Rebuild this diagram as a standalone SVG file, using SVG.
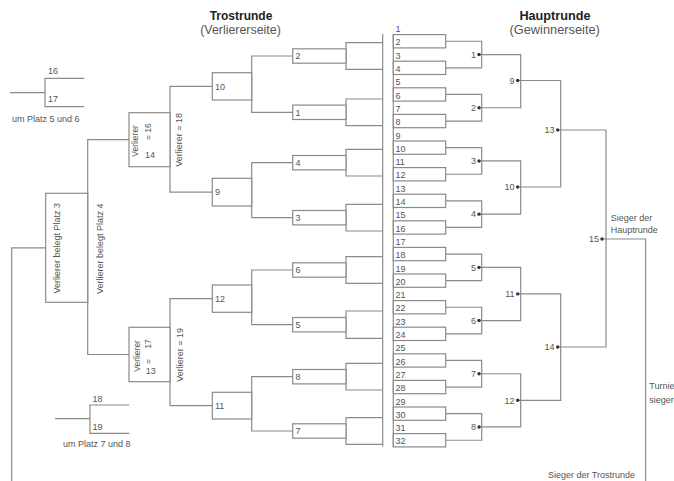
<svg xmlns="http://www.w3.org/2000/svg" width="674" height="481" viewBox="0 0 674 481">
<style>
.ln{fill:none;stroke:#8a8a8a;stroke-width:1.2}
.bx{fill:#fff;stroke:#8a8a8a;stroke-width:1.2}
text{font-family:"Liberation Sans",Arial,sans-serif;fill:#555;font-size:9px}
.t{font-weight:bold;fill:#222;text-anchor:middle}
.st{fill:#555;text-anchor:middle}
.e{text-anchor:end}
.sm{font-size:8.5px}
</style>
<defs>
<marker id="dot" viewBox="-2 -2 4 4" markerWidth="4" markerHeight="4" markerUnits="userSpaceOnUse" refX="0" refY="0"><circle r="1.7" fill="#333"/></marker>
</defs>
<rect width="674" height="481" fill="#fff"/>

<g id="titles">
<text class="t" x="241" y="20" style="font-size:12px">Trostrunde</text>
<text class="st" x="240.5" y="33.5" style="font-size:12.4px">(Verliererseite)</text>
<text class="t" x="555" y="20" style="font-size:12.7px">Hauptrunde</text>
<text class="st" x="554.7" y="33.5" style="font-size:12.8px">(Gewinnerseite)</text>
</g>

<g id="connectors">
<!-- main side -->
<path class="ln" d="M393.3,34.6V446.9"/>
<path class="ln" d="M445.7,41.25H481.7V67.85H445.7M445.7,94.45H481.7V121.05H445.7M445.7,147.65H481.7V174.25H445.7M445.7,200.85H481.7V227.45H445.7M445.7,254.05H481.7V280.65H445.7M445.7,307.25H481.7V333.85H445.7M445.7,360.45H481.7V387.05H445.7M445.7,413.65H481.7V440.25H445.7"/>
<path class="ln" marker-start="url(#dot)" marker-end="url(#dot)" d="M479,54.55H520.7V107.75H479"/>
<path class="ln" marker-start="url(#dot)" marker-end="url(#dot)" d="M479,160.95H520.7V214.15H479"/>
<path class="ln" marker-start="url(#dot)" marker-end="url(#dot)" d="M479,267.35H520.7V320.55H479"/>
<path class="ln" marker-start="url(#dot)" marker-end="url(#dot)" d="M479,373.75H520.7V426.95H479"/>
<path class="ln" marker-start="url(#dot)" marker-end="url(#dot)" d="M517.7,80.5H560.7V187H517.7"/>
<path class="ln" marker-start="url(#dot)" marker-end="url(#dot)" d="M517.7,293.9H560.7V400.3H517.7"/>
<path class="ln" marker-start="url(#dot)" marker-end="url(#dot)" d="M557.7,130H606V347H557.7"/>
<path class="ln" marker-start="url(#dot)" d="M602,239H645.7V481"/>
<!-- consolation side -->
<path class="ln" d="M382.7,34V446.5"/>
<path class="ln" d="M382.7,42.7H346V69.3H382.7M382.7,99H346V125.7H382.7M382.7,149.3H346V176H382.7M382.7,204.3H346V231H382.7M382.7,256.7H346V283.3H382.7M382.7,311H346V338.3H382.7M382.7,363.3H346V390H382.7M382.7,417.7H346V444.3H382.7"/>
<path class="ln" d="M292.7,56H251.7V112.3H292.7M292.7,162.7H251.7V217.7H292.7M292.7,270H251.7V324.7H292.7M292.7,376.7H251.7V431H292.7"/>
<path class="ln" d="M212.3,86.3H170V192.2H212.3M212.3,298.7H170V405.7H212.3"/>
<path class="ln" d="M129,139.7H87.7V354.5H129"/>
<path class="ln" d="M45.7,247.8H11.7V481"/>
<path class="ln" d="M10,92.7H45M84.3,78.3H45V106.7H84.3"/>
<path class="ln" d="M55,418.7H90M129.3,405H90V433.3H129.3"/>
</g>

<g id="main-slots">
<rect class="bx" x="393.3" y="34.6" width="52.4" height="13.3"/>
<rect class="bx" x="393.3" y="61.2" width="52.4" height="13.3"/>
<rect class="bx" x="393.3" y="87.8" width="52.4" height="13.3"/>
<rect class="bx" x="393.3" y="114.4" width="52.4" height="13.3"/>
<rect class="bx" x="393.3" y="141" width="52.4" height="13.3"/>
<rect class="bx" x="393.3" y="167.6" width="52.4" height="13.3"/>
<rect class="bx" x="393.3" y="194.2" width="52.4" height="13.3"/>
<rect class="bx" x="393.3" y="220.8" width="52.4" height="13.3"/>
<rect class="bx" x="393.3" y="247.4" width="52.4" height="13.3"/>
<rect class="bx" x="393.3" y="274" width="52.4" height="13.3"/>
<rect class="bx" x="393.3" y="300.6" width="52.4" height="13.3"/>
<rect class="bx" x="393.3" y="327.2" width="52.4" height="13.3"/>
<rect class="bx" x="393.3" y="353.8" width="52.4" height="13.3"/>
<rect class="bx" x="393.3" y="380.4" width="52.4" height="13.3"/>
<rect class="bx" x="393.3" y="407" width="52.4" height="13.3"/>
<rect class="bx" x="393.3" y="433.6" width="52.4" height="13.3"/>
<text x="395.5" y="32.1">1</text><text x="395.5" y="45.4">2</text><text x="395.5" y="58.7">3</text><text x="395.5" y="72">4</text>
<text x="395.5" y="85.3">5</text><text x="395.5" y="98.6">6</text><text x="395.5" y="111.9">7</text><text x="395.5" y="125.2">8</text>
<text x="395.5" y="138.5">9</text><text x="395.5" y="151.8">10</text><text x="395.5" y="165.1">11</text><text x="395.5" y="178.4">12</text>
<text x="395.5" y="191.7">13</text><text x="395.5" y="205">14</text><text x="395.5" y="218.3">15</text><text x="395.5" y="231.6">16</text>
<text x="395.5" y="244.9">17</text><text x="395.5" y="258.2">18</text><text x="395.5" y="271.5">19</text><text x="395.5" y="284.8">20</text>
<text x="395.5" y="298.1">21</text><text x="395.5" y="311.4">22</text><text x="395.5" y="324.7">23</text><text x="395.5" y="338">24</text>
<text x="395.5" y="351.3">25</text><text x="395.5" y="364.6">26</text><text x="395.5" y="377.9">27</text><text x="395.5" y="391.2">28</text>
<text x="395.5" y="404.5">29</text><text x="395.5" y="417.8">30</text><text x="395.5" y="431.1">31</text><text x="395.5" y="444.4">32</text>
</g>

<g id="main-matches">
<text class="e" x="476" y="57.8">1</text>
<text class="e" x="476" y="111">2</text>
<text class="e" x="476" y="164.2">3</text>
<text class="e" x="476" y="217.4">4</text>
<text class="e" x="476" y="270.6">5</text>
<text class="e" x="476" y="323.8">6</text>
<text class="e" x="476" y="377">7</text>
<text class="e" x="476" y="430.2">8</text>
<text class="e" x="514.5" y="83.7">9</text>
<text class="e" x="514.5" y="190.2">10</text>
<text class="e" x="514.5" y="297.1">11</text>
<text class="e" x="514.5" y="403.5">12</text>
<text class="e" x="554.5" y="133.2">13</text>
<text class="e" x="554.5" y="350.2">14</text>
<text class="e" x="599" y="242.2">15</text>
</g>

<g id="cons-r1">
<rect class="bx" x="292.7" y="48.8" width="53.3" height="14.4"/><text x="295.5" y="59.2">2</text>
<rect class="bx" x="292.7" y="105.1" width="53.3" height="14.4"/><text x="295.5" y="115.5">1</text>
<rect class="bx" x="292.7" y="155.5" width="53.3" height="14.4"/><text x="295.5" y="165.9">4</text>
<rect class="bx" x="292.7" y="210.5" width="53.3" height="14.4"/><text x="295.5" y="220.9">3</text>
<rect class="bx" x="292.7" y="262.8" width="53.3" height="14.4"/><text x="295.5" y="273.2">6</text>
<rect class="bx" x="292.7" y="317.5" width="53.3" height="14.4"/><text x="295.5" y="327.9">5</text>
<rect class="bx" x="292.7" y="369.5" width="53.3" height="14.4"/><text x="295.5" y="379.9">8</text>
<rect class="bx" x="292.7" y="423.8" width="53.3" height="14.4"/><text x="295.5" y="434.2">7</text>
</g>

<g id="cons-r2">
<rect class="bx" x="212.3" y="72.7" width="39.4" height="27.3"/><text x="215" y="89.5">10</text>
<rect class="bx" x="212.3" y="178.3" width="39.4" height="27.7"/><text x="215" y="195.4">9</text>
<rect class="bx" x="212.3" y="285" width="39.4" height="27.3"/><text x="215" y="301.9">12</text>
<rect class="bx" x="212.3" y="392.3" width="39.4" height="26.7"/><text x="215" y="408.9">11</text>
</g>

<g id="cons-r3">
<rect class="bx" x="129" y="112.7" width="41" height="54"/>
<text class="sm" transform="translate(138,156.7) rotate(-90)">Verlierer</text>
<text class="sm" transform="translate(151.3,140) rotate(-90)">= 16</text>
<text x="145" y="157.5">14</text>
<text transform="translate(182.3,166.7) rotate(-90)">Verlierer = 18</text>
<rect class="bx" x="129" y="327.3" width="41" height="54.4"/>
<text class="sm" transform="translate(139.7,371.7) rotate(-90)">Verlierer</text>
<text class="sm" transform="translate(150.7,364) rotate(-90)">=<tspan x="15.2">17</tspan></text>
<text x="145.7" y="374">13</text>
<text transform="translate(183,381.7) rotate(-90)">Verlierer = 19</text>
</g>

<g id="cons-final">
<rect class="bx" x="45.7" y="193.3" width="42" height="109"/>
<text transform="translate(59.5,293.5) rotate(-90)">Verlierer belegt Platz 3</text>
<text transform="translate(102.5,294) rotate(-90)">Verlierer belegt Platz 4</text>
</g>

<g id="place5">
<text x="48" y="74.2">16</text>
<text x="48" y="102.2">17</text>
<text x="12" y="121.5">um Platz 5 und 6</text>
</g>
<g id="place7">
<text x="92.5" y="401.5">18</text>
<text x="92.5" y="429.8">19</text>
<text x="63" y="446.5">um Platz 7 und 8</text>
</g>

<g id="labels">
<text x="610.7" y="221.3">Sieger der</text>
<text x="610.7" y="232.5">Hauptrunde</text>
<text x="649.3" y="389.2">Turnier</text>
<text x="649.3" y="403.2">sieger</text>
<text x="548" y="478.2">Sieger der Trostrunde</text>
</g>
</svg>
